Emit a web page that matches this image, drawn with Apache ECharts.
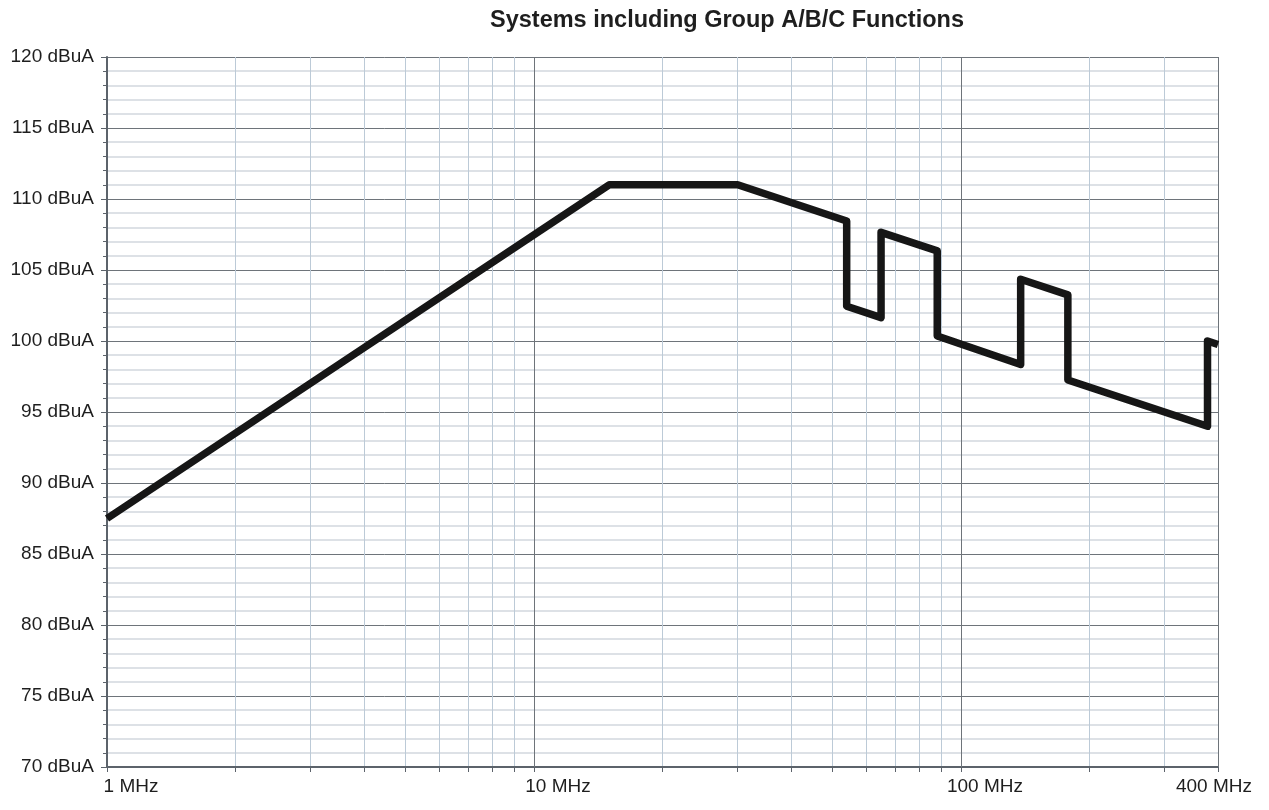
<!DOCTYPE html>
<html>
<head>
<meta charset="utf-8">
<script src="https://cdn.jsdelivr.net/npm/echarts@6/dist/echarts.min.js"></script>
<style>
  html, body { margin: 0; padding: 0; background: #ffffff; }
  #chart { width: 1269px; height: 810px; }
</style>
</head>
<body>
<div id="chart"></div>
<script>
// Limit curve: frequency (MHz) and current level (dBuA)
const titleText = 'Systems including Group A/B/C Functions';
const freqMHz   = [1,    15,  30,  54,     54,     65,     65,     88,     88,     138,   138,    178,    178,   378,  378,   400];
const levelDbuA = [87.5, 111, 111, 108.45, 102.45, 101.65, 107.65, 106.35, 100.35, 98.35, 104.35, 103.25, 97.25, 94.0, 100.0, 99.75];

// Frequency grid / tick positions and labelled frequencies
const freqTicks  = [1, 2, 3, 4, 5, 6, 7, 8, 9, 10, 20, 30, 40, 50, 60, 70, 80, 90, 100, 200, 300, 400];
const freqLabels = [1, 10, 100, 400];
const decadeLines = [10, 100, 400];

// Level axis range and step
const levelMin = 70, levelMax = 120, levelStep = 5;

const FONT = '"Liberation Sans", Arial, Helvetica, sans-serif';
const MAJOR = '#6e747a';
const MINOR_H = '#d2d8de';
const MINOR_V = '#bccad7';
const AXIS = '#5c636b';

const chart = echarts.init(document.getElementById('chart'), null, { renderer: 'canvas' });

const curve = freqMHz.map((f, i) => [f, levelDbuA[i]]);

chart.setOption({
  animation: false,
  backgroundColor: '#ffffff',
  title: {
    text: titleText,
    left: 485,
    top: 4,
    textStyle: { fontFamily: FONT, fontSize: 23.5, fontWeight: 'bold', color: '#1e1e1e' }
  },
  grid: { left: 107, right: 51, top: 57, bottom: 43, containLabel: false },
  xAxis: {
    type: 'log',
    logBase: 10,
    min: 1,
    max: 400,
    axisLine: { show: true, onZero: false, lineStyle: { color: AXIS, width: 2 } },
    axisTick: { show: true, length: 5, customValues: freqTicks, lineStyle: { color: AXIS, width: 1 } },
    splitLine: { show: true, lineStyle: { color: MINOR_V, width: 1 } },
    axisLabel: {
      customValues: freqLabels,
      margin: 10,
      fontFamily: FONT,
      fontSize: 19,
      color: '#1e1e1e',
      formatter: v => {
        const n = Math.round(v);
        return n === 400 ? '{e|' + n + ' MHz}' : '{m|' + n + ' MHz}';
      },
      rich: {
        m: { fontFamily: FONT, fontSize: 19, color: '#1e1e1e', padding: [0, 0, 0, 48] },
        e: { fontFamily: FONT, fontSize: 19, color: '#1e1e1e', padding: [0, 8, 0, 0] }
      }
    }
  },
  yAxis: {
    type: 'value',
    min: levelMin,
    max: levelMax,
    interval: levelStep,
    axisLine: { show: true, onZero: false, lineStyle: { color: AXIS, width: 2 } },
    axisTick: { show: true, length: 6, lineStyle: { color: AXIS, width: 1 } },
    minorTick: { show: true, splitNumber: 5, length: 4, lineStyle: { color: AXIS, width: 1 } },
    splitLine: { show: true, lineStyle: { color: MAJOR, width: 1 } },
    minorSplitLine: { show: true, lineStyle: { color: MINOR_H, width: 1.5 } },
    axisLabel: {
      margin: 13,
      fontFamily: FONT,
      fontSize: 19,
      color: '#1e1e1e',
      formatter: '{value} dBuA'
    }
  },
  series: [
    {
      // decade grid lines drawn darker than the minor frequency lines
      name: 'decades',
      type: 'line',
      data: [],
      z: 1,
      silent: true,
      markLine: {
        silent: true,
        symbol: ['none', 'none'],
        label: { show: false },
        lineStyle: { color: MAJOR, width: 1, type: 'solid' },
        emphasis: { disabled: true },
        animation: false,
        data: decadeLines.map(f => ({ xAxis: f }))
      }
    },
    {
      name: 'Limit',
      type: 'line',
      data: curve,
      z: 5,
      showSymbol: false,
      symbol: 'none',
      lineStyle: { color: '#161616', width: 7.5, cap: 'butt', join: 'round' }
    }
  ]
});
</script>
</body>
</html>
